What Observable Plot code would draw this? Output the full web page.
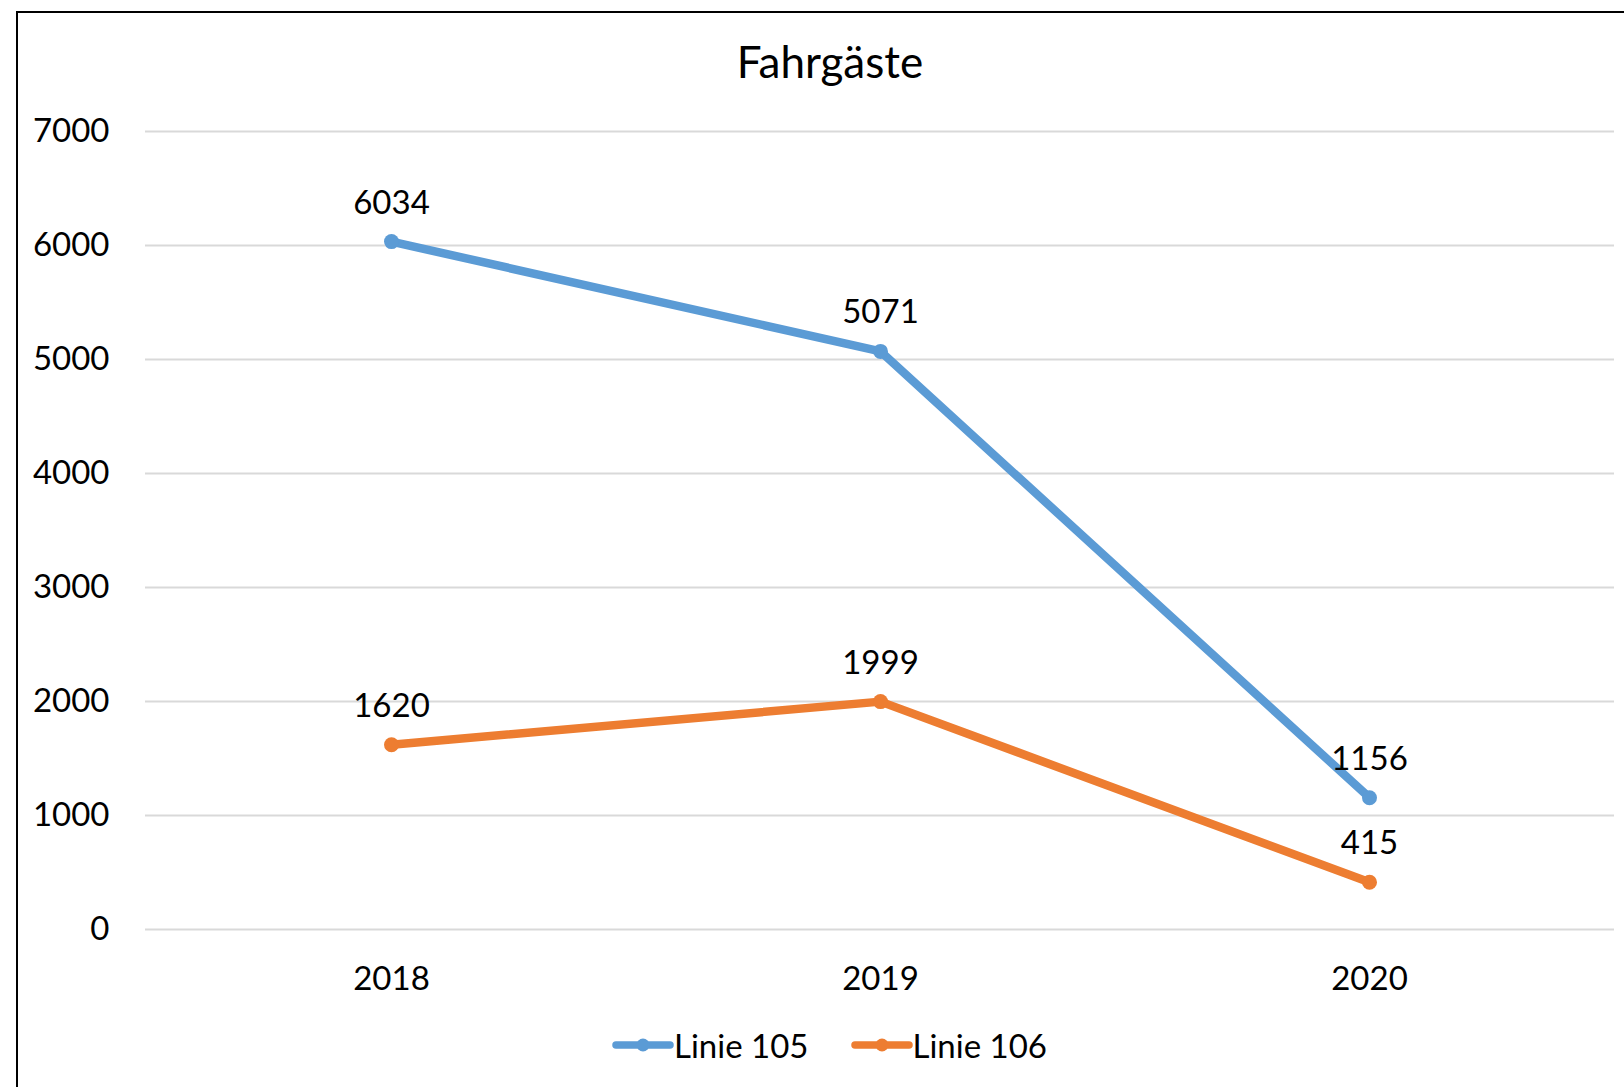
<!DOCTYPE html>
<html>
<head>
<meta charset="utf-8">
<script src="https://cdn.jsdelivr.net/npm/d3@7"></script>
<script src="https://cdn.jsdelivr.net/npm/@observablehq/plot@0.6"></script>
<style>
  html, body { margin: 0; padding: 0; background: #fff; overflow: hidden; }
  #page { position: relative; width: 1624px; height: 1087px; overflow: hidden; font-family: Lato, "Open Sans", sans-serif; }
  #frame { position: absolute; left: 16px; top: 11px; width: 1700px; height: 1200px; border-top: 2.5px solid #000; border-left: 2.5px solid #000; }
  #chart { position: absolute; left: 0; top: 0; }
  #title { position: absolute; left: 0; width: 1660px; top: 35px; text-align: center; font-size: 44px; color: #000; }
  #legend { position: absolute; left: 612px; top: 1025px; display: flex; align-items: center; font-size: 33px; color: #000; }
  .item { display: flex; align-items: center; }
  .item svg { display: block; }
</style>
</head>
<body>
<div id="page">
  <div id="frame"></div>
  <div id="chart"></div>
  <div id="title">Fahrgäste</div>
  <div id="legend"></div>
</div>
<script>
const years = ["2018", "2019", "2020"];
const linie105 = [6034, 5071, 1156];
const linie106 = [1620, 1999, 415];
const seriesNames = ["Linie 105", "Linie 106"];
const seriesColors = ["#5B9BD5", "#ED7D31"];
const yTicks = [0, 1000, 2000, 3000, 4000, 5000, 6000, 7000];

const data = [];
[linie105, linie106].forEach((vals, s) => {
  vals.forEach((v, i) => data.push({ series: seriesNames[s], year: years[i], value: v }));
});

const chart = Plot.plot({
  width: 1624,
  height: 1087,
  marginLeft: 145,
  marginRight: 10,
  marginTop: 131,
  marginBottom: 158,
  style: { fontFamily: "Lato, 'Open Sans', sans-serif", fontSize: "32px", color: "#000", background: "transparent" },
  x: { type: "point", domain: years, padding: 0.5, label: null },
  y: { domain: [0, 7000], label: null },
  color: { domain: seriesNames, range: seriesColors },
  marks: [
    Plot.ruleY(yTicks, { stroke: "#d9d9d9", strokeWidth: 2 }),
    Plot.axisY({ ticks: yTicks, tickFormat: d3.format("d"), tickSize: 0, tickPadding: 36, label: null, fontSize: 33 }),
    Plot.axisX({ tickSize: 0, tickPadding: 37, label: null, fontSize: 33 }),
    Plot.line(data, { x: "year", y: "value", z: "series", stroke: "series", strokeWidth: 8.5, strokeLinejoin: "round" }),
    Plot.dot(data, { x: "year", y: "value", fill: "series", r: 7.5 }),
    Plot.text(data, { x: "year", y: "value", text: d => String(d.value), lineAnchor: "bottom", dy: -28, fill: "#000", fontSize: 33 })
  ]
});
document.getElementById("chart").appendChild(chart);

// Legend
const legend = document.getElementById("legend");
seriesNames.forEach((name, i) => {
  const item = document.createElement("div");
  item.className = "item";
  item.style.marginRight = i === 0 ? "42px" : "0";
  const sw = d3.create("svg").attr("width", 62).attr("height", 20);
  sw.append("line").attr("x1", 4).attr("x2", 58).attr("y1", 10).attr("y2", 10)
    .attr("stroke", seriesColors[i]).attr("stroke-width", 7.5).attr("stroke-linecap", "round");
  sw.append("circle").attr("cx", 31).attr("cy", 10).attr("r", 6.5).attr("fill", seriesColors[i]);
  item.appendChild(sw.node());
  const t = document.createElement("span");
  t.textContent = name;
  item.appendChild(t);
  legend.appendChild(item);
});
</script>
</body>
</html>
